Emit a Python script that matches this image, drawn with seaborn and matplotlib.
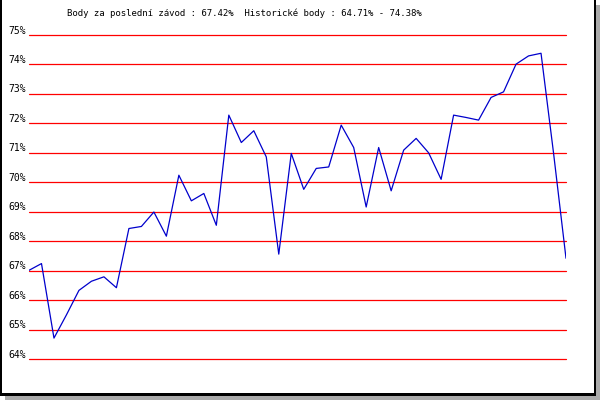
import matplotlib
matplotlib.use("Agg")
import matplotlib.pyplot as plt
import matplotlib.transforms as mtransforms
from matplotlib.patches import Rectangle
import seaborn as sns

sns.set_style("white")
plt.rcParams['font.family'] = ['DejaVu Sans Mono']

# race index and score (%)
race = list(range(44))
score = [67.01, 67.24, 64.71, 65.50, 66.33, 66.64, 66.79, 66.42, 68.43, 68.50,
         68.99, 68.17, 70.24, 69.37, 69.62, 68.54, 72.28, 71.35, 71.75, 70.86,
         67.56, 70.98, 69.76, 70.47, 70.52, 71.94, 71.18, 69.16, 71.18, 69.71,
         71.09, 71.49, 71.00, 70.10, 72.28, 72.20, 72.11, 72.88, 73.07, 74.01,
         74.29, 74.38, 71.00, 67.42]
levels = list(range(64, 76))
title = "Body za poslední závod : 67.42%  Historické body : 64.71% - 74.38%"

W, H = 600, 400
fig = plt.figure(figsize=(6, 4), dpi=100)
fig.patch.set_facecolor("white")

# plot area in pixels: x 29..566, y 35..359 (from top)
ax = fig.add_axes([29 / W, (H - 359) / H, 537 / W, 324 / H])
ax.set_facecolor("white")

for lv in levels:
    ax.axhline(lv, color="#ff0000", lw=0.9, clip_on=False, zorder=1)

sns.lineplot(x=race, y=score, ax=ax, color="#0000cc", lw=0.9, zorder=3)

ax.set_xlim(0, 43)
ax.set_ylim(64, 75)
ax.set_xticks([])
ax.set_yticks([])
ax.set_xlabel("")
ax.set_ylabel("")
for s in ax.spines.values():
    s.set_visible(False)

# level labels sit just above-left of each red line
trans = mtransforms.blended_transform_factory(ax.transAxes, ax.transData)
trans = mtransforms.offset_copy(trans, fig=fig, x=-3, y=1.5, units="dots")
for lv in levels:
    ax.text(0, lv, f"{lv}%", transform=trans, ha="right", va="baseline",
            fontsize=7, color="black")

fig.text(244 / W, 1 - 13.5 / H, title, ha="center", va="center",
         fontsize=6.5, color="black")

# frame with grey drop shadow
def px_rect(x0, y0, x1, y1, color):
    fig.add_artist(Rectangle((x0 / W, 1 - y1 / H), (x1 - x0) / W, (y1 - y0) / H,
                             transform=fig.transFigure, color=color, lw=0))

px_rect(5, 396, 600, 400, "#aaaaaa")
px_rect(596, 5, 600, 400, "#aaaaaa")
px_rect(0, 0, 2, 396, "black")
px_rect(0, 393, 596, 396, "black")
px_rect(594, 0, 596, 396, "black")

fig.savefig("out.png", dpi=100)
